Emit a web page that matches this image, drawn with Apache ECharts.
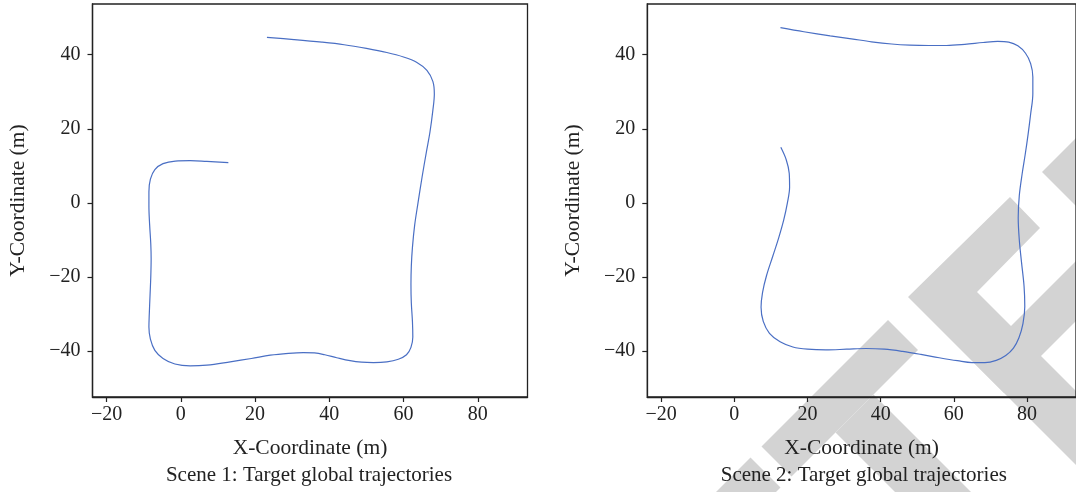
<!DOCTYPE html>
<html>
<head>
<meta charset="utf-8">
<script src="https://cdn.jsdelivr.net/npm/echarts@6/dist/echarts.min.js"></script>
<style>
  html, body { margin: 0; padding: 0; background: #fff; }
  #chart { width: 1076px; height: 492px; }
</style>
</head>
<body>
<div id="chart"></div>
<script>
// trajectory samples, [x, y] in metres
const scene1Points = [
    [12.8, 10.9], [7, 11.2], [2.5, 11.4], [-1.5, 11.3], [-4.8, 10.6], [-7.0, 9.0], [-8.2, 6.4],
    [-8.6, 3.0], [-8.6, -1], [-8.4, -6], [-8.1, -11], [-8.0, -15], [-8.1, -20], [-8.3, -25],
    [-8.5, -30], [-8.6, -33.5], [-8.2, -36.8], [-7.0, -39.8], [-4.8, -42.0], [-1.6, -43.5],
    [2.5, -44.0], [7, -43.8], [13.3, -42.9], [19, -42], [24.1, -41.1], [29, -40.6], [33.0, -40.4],
    [36, -40.5], [38.8, -41.0], [42, -41.8], [45.6, -42.6], [48.7, -43], [51.9, -43.1], [55.5, -42.9],
    [58.6, -42.2], [60.8, -41.0], [62.0, -39.0], [62.5, -36.2], [62.4, -32], [62.1, -27], [62.0, -22],
    [62.1, -17], [62.4, -12], [63.0, -6], [63.9, 0], [65.0, 7], [66.2, 14], [67.1, 19], [67.9, 25],
    [68.3, 29.4], [67.9, 32.8], [66.3, 35.8], [63.5, 38.0], [60, 39.4], [55.5, 40.6], [50, 41.7],
    [44, 42.7], [38, 43.4], [30.5, 44.1], [23.2, 44.7]
];
const scene2Points = [
    [12.7, 15.0], [14.2, 11.6], [15.0, 8.0], [15.1, 4.2], [14.5, 0], [13.5, -4.6], [12.1, -9.5],
    [10.5, -14.4], [8.8, -19.6], [7.7, -24.2], [7.3, -28.2], [7.9, -32.0], [9.6, -35.2], [12.5, -37.5],
    [16, -38.9], [20, -39.5], [25, -39.7], [30.7, -39.5], [36, -39.3], [41, -39.5], [46, -40.1],
    [51, -40.9], [56, -41.8], [61, -42.6], [65, -43.1], [68.5, -43.1], [71.6, -42.5], [74.2, -41.2],
    [76.3, -39.2], [77.8, -36.4], [78.9, -32.6], [79.4, -28], [79.2, -22.5], [78.5, -16], [77.9, -10],
    [77.6, -4], [77.9, 2], [78.7, 8], [79.5, 13], [80.3, 18.5], [81.0, 24], [81.6, 29.5], [81.6, 34],
    [81.0, 37.6], [79.6, 40.4], [77.5, 42.4], [75, 43.4], [72, 43.6], [68, 43.3], [63, 42.8],
    [58, 42.5], [53.1, 42.5], [48, 42.6], [43, 42.9], [37.5, 43.5], [32, 44.3], [26.2, 45.1],
    [19, 46.2], [12.6, 47.3]
];
const xTicks = [-20, 0, 20, 40, 60, 80];
const yTicks = [-40, -20, 0, 20, 40];
const captions = ['Scene 1: Target global trajectories', 'Scene 2: Target global trajectories'];

const FONT = '"Liberation Serif", "DejaVu Serif", serif';
const INK = '#222';
const LINE = '#4a6fc4';

// grey watermark bands over the right panel
const watermark = [
    [[1010, 197], [1040, 228], [977, 292], [1205, 520], [1131, 520], [908, 297]],
    [[1110, 227], [1110, 287], [1004, 393], [974, 363]],
    [[1042, 172], [1110, 104], [1110, 240]],
    [[888, 320], [918, 350], [791.5, 476.5], [761.5, 446.5]],
    [[873.5, 394.5], [999, 520], [923, 520], [835.5, 432.5]],
    [[750.5, 457.5], [780.5, 487.5], [748, 520], [688, 520]]
];

const chart = echarts.init(document.getElementById('chart'));

const minus = v => String(v).replace('-', '\u2212');
const grids = [
    { left: 92.5, top: 4, width: 435, height: 393 },
    { left: 647.3, top: 4, width: 435, height: 393 }
];

function xAxisFor(i) {
    return {
        type: 'value', gridIndex: i, min: -23.8, max: 93.4,
        name: 'X-Coordinate (m)', nameLocation: 'middle', nameGap: 40,
        nameTextStyle: { fontFamily: FONT, fontSize: 21.5, color: INK },
        splitLine: { show: false },
        axisLine: { show: true, onZero: false, lineStyle: { color: INK, width: 1.3 } },
        axisTick: { show: true, length: 5, lineStyle: { color: INK, width: 1.2 }, customValues: xTicks },
        axisLabel: { fontFamily: FONT, fontSize: 20, color: INK, margin: 8, customValues: xTicks, formatter: minus }
    };
}
function yAxisFor(i) {
    return {
        type: 'value', gridIndex: i, min: -52.4, max: 53.7,
        name: 'Y-Coordinate (m)', nameLocation: 'middle', nameGap: 63, nameRotate: 90,
        nameTextStyle: { fontFamily: FONT, fontSize: 21.5, color: INK },
        splitLine: { show: false },
        axisLine: { show: true, onZero: false, lineStyle: { color: INK, width: 1.3 } },
        axisTick: { show: true, length: 5, lineStyle: { color: INK, width: 1.2 }, customValues: yTicks },
        axisLabel: { fontFamily: FONT, fontSize: 20, color: INK, margin: 12, customValues: yTicks, formatter: minus }
    };
}

chart.setOption({
    animation: false,
    backgroundColor: '#fff',
    grid: grids.map(g => ({ ...g, show: true, borderColor: INK, borderWidth: 1.3, backgroundColor: 'transparent' })),
    title: captions.map((t, i) => ({
        text: t, left: grids[i].left + grids[i].width / 2 - 6, top: 460, textAlign: 'center',
        textStyle: { fontFamily: FONT, fontSize: 21, fontWeight: 'normal', color: INK }
    })),
    xAxis: [xAxisFor(0), xAxisFor(1)],
    yAxis: [yAxisFor(0), yAxisFor(1)],
    graphic: watermark.map(pts => ({
        type: 'polygon', z: -10, silent: true,
        shape: { points: pts },
        style: { fill: '#d3d3d3' }
    })),
    series: [scene1Points, scene2Points].map((pts, i) => ({
        type: 'line', xAxisIndex: i, yAxisIndex: i,
        data: pts, smooth: 0.35, showSymbol: false, z: 3,
        lineStyle: { color: LINE, width: 1.2 }
    }))
});
</script>
</body>
</html>
